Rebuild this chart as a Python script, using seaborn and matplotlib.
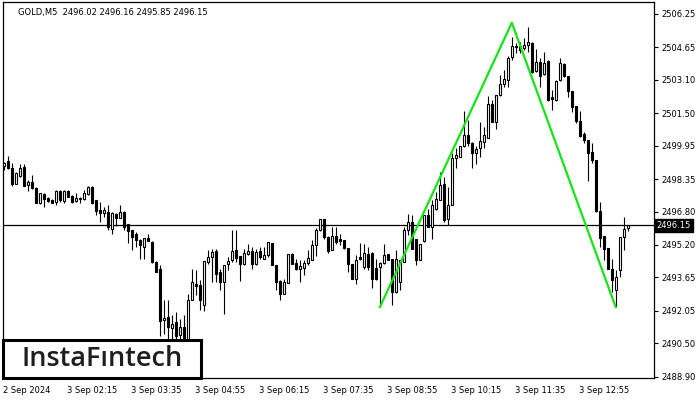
import matplotlib
matplotlib.use("Agg")
import matplotlib.pyplot as plt
import matplotlib.transforms as mtransforms
from matplotlib.patches import Rectangle
import seaborn as sns

# GOLD M5 candles (oldest first)
opens = [
    2498.97, 2499.22, 2498.86, 2498.14, 2498.50, 2498.94, 2498.06, 2498.19, 2497.93, 2497.23,
    2497.66, 2497.47, 2497.37, 2497.26, 2497.79, 2497.31, 2497.79, 2497.55, 2497.31, 2497.42,
    2497.42, 2497.63, 2497.98, 2497.37, 2496.86, 2496.73, 2496.78, 2495.98, 2496.67, 2496.51,
    2496.78, 2496.19, 2495.94, 2495.71, 2495.46, 2495.10, 2495.55, 2495.34, 2494.39, 2494.07,
    2491.59, 2491.75, 2491.24, 2491.51, 2490.92, 2491.27, 2490.15, 2492.55, 2493.35, 2493.27,
    2492.31, 2494.38, 2494.62, 2494.91, 2493.91, 2493.43, 2494.31, 2494.50, 2494.95, 2494.66,
    2494.31, 2494.79, 2494.90, 2494.31, 2494.91, 2494.55, 2494.71, 2495.30, 2494.23, 2493.47,
    2492.87, 2493.38, 2494.79, 2494.34, 2494.07, 2494.12, 2494.34, 2494.50, 2495.18, 2495.90,
    2496.42, 2495.58, 2494.98, 2495.62, 2495.51, 2495.46, 2495.07, 2494.27, 2493.59, 2494.62,
    2494.15, 2494.79, 2494.82, 2494.12, 2494.15, 2494.34, 2494.79, 2494.55, 2492.95, 2493.43,
    2494.38, 2495.94, 2496.30, 2495.51, 2494.47, 2495.39, 2496.62, 2496.06, 2496.94, 2497.34,
    2498.11, 2496.42, 2497.10, 2499.34, 2499.41, 2499.93, 2500.45, 2500.08, 2499.61, 2499.82,
    2500.13, 2500.34, 2501.94, 2501.09, 2502.37, 2502.90, 2503.09, 2504.17, 2504.72, 2504.72,
    2504.61, 2504.76, 2504.87, 2503.53, 2503.97, 2503.38, 2504.00, 2502.26, 2502.13, 2503.09,
    2503.85, 2503.28, 2502.58, 2501.84, 2501.12, 2500.53, 2500.21, 2499.65, 2499.26, 2496.83,
    2495.62, 2495.06, 2494.07, 2493.06, 2494.02, 2495.58, 2496.02,
]
highs = [
    2499.16, 2499.45, 2499.13, 2498.68, 2499.06, 2499.05, 2498.30, 2498.54, 2497.96, 2497.69,
    2497.68, 2497.48, 2497.39, 2497.82, 2497.82, 2497.82, 2497.82, 2497.58, 2497.71, 2497.50,
    2497.82, 2498.03, 2498.03, 2497.37, 2497.26, 2497.02, 2497.10, 2496.77, 2496.73, 2497.10,
    2496.81, 2496.22, 2495.94, 2495.82, 2495.47, 2495.55, 2495.71, 2495.38, 2494.42, 2494.23,
    2492.58, 2492.58, 2491.83, 2491.99, 2491.67, 2491.83, 2492.87, 2494.07, 2494.02, 2493.51,
    2494.42, 2494.95, 2495.03, 2495.03, 2494.07, 2494.23, 2494.62, 2495.90, 2495.90, 2494.66,
    2495.03, 2495.27, 2495.10, 2495.03, 2495.10, 2495.10, 2495.34, 2495.30, 2494.23, 2493.51,
    2493.59, 2494.79, 2494.82, 2494.55, 2494.47, 2494.50, 2494.95, 2495.42, 2495.99, 2496.46,
    2496.46, 2495.62, 2496.06, 2496.06, 2495.74, 2495.46, 2495.07, 2494.27, 2494.71, 2495.31,
    2495.27, 2495.10, 2494.86, 2494.55, 2494.39, 2495.27, 2494.79, 2494.55, 2494.98, 2494.47,
    2496.06, 2496.70, 2496.62, 2495.51, 2495.23, 2496.62, 2496.94, 2497.37, 2497.74, 2498.70,
    2498.46, 2497.98, 2499.58, 2499.82, 2499.93, 2501.62, 2501.17, 2500.13, 2499.93, 2501.09,
    2500.82, 2502.32, 2502.13, 2502.37, 2503.33, 2503.57, 2504.24, 2505.16, 2504.85, 2504.92,
    2505.09, 2505.64, 2504.91, 2504.56, 2504.13, 2504.44, 2504.05, 2502.61, 2503.09, 2504.13,
    2503.89, 2503.30, 2502.58, 2501.86, 2501.62, 2500.61, 2500.21, 2500.06, 2499.26, 2497.26,
    2495.62, 2495.06, 2494.55, 2493.99, 2495.58, 2496.54, 2496.16,
]
lows = [
    2498.78, 2498.83, 2498.03, 2498.11, 2498.43, 2498.01, 2497.79, 2497.90, 2497.21, 2497.18,
    2497.02, 2497.26, 2497.20, 2497.10, 2497.24, 2497.20, 2497.48, 2497.20, 2497.26, 2497.20,
    2497.37, 2497.58, 2497.18, 2496.62, 2496.30, 2496.54, 2495.90, 2495.74, 2496.09, 2496.48,
    2495.90, 2495.29, 2494.94, 2495.10, 2494.55, 2494.55, 2495.38, 2494.34, 2493.89, 2490.87,
    2490.95, 2490.40, 2490.72, 2490.25, 2490.40, 2489.68, 2489.92, 2492.55, 2492.79, 2492.07,
    2492.02, 2494.31, 2493.43, 2493.43, 2493.06, 2491.91, 2493.99, 2494.39, 2494.39, 2493.47,
    2494.23, 2494.71, 2494.07, 2494.23, 2494.55, 2494.55, 2494.62, 2494.23, 2493.03, 2492.59,
    2492.84, 2493.38, 2494.27, 2493.99, 2493.43, 2493.75, 2494.23, 2494.47, 2494.66, 2495.87,
    2495.51, 2494.82, 2494.95, 2495.27, 2495.18, 2495.03, 2493.91, 2493.59, 2493.35, 2494.47,
    2494.07, 2493.99, 2493.16, 2493.54, 2492.30, 2494.31, 2494.47, 2492.31, 2492.90, 2493.03,
    2494.38, 2495.66, 2495.03, 2494.23, 2494.47, 2495.34, 2496.06, 2495.51, 2496.86, 2497.34,
    2496.30, 2496.14, 2497.10, 2498.86, 2499.39, 2499.89, 2499.93, 2498.86, 2499.06, 2499.41,
    2499.82, 2500.34, 2501.09, 2500.73, 2502.32, 2502.77, 2502.74, 2504.05, 2504.37, 2504.37,
    2504.52, 2504.44, 2503.41, 2503.49, 2502.74, 2503.33, 2502.10, 2501.65, 2502.10, 2503.05,
    2503.25, 2502.29, 2501.57, 2501.01, 2500.37, 2500.06, 2498.26, 2499.10, 2496.78, 2495.10,
    2494.47, 2494.07, 2492.95, 2492.23, 2493.67, 2494.98, 2495.85,
]
closes = [
    2499.13, 2498.86, 2498.14, 2498.62, 2498.86, 2498.03, 2498.19, 2497.93, 2497.23, 2497.69,
    2497.39, 2497.31, 2497.23, 2497.79, 2497.37, 2497.79, 2497.50, 2497.26, 2497.47, 2497.44,
    2497.69, 2497.98, 2497.23, 2496.83, 2496.73, 2496.86, 2496.06, 2496.73, 2496.51, 2496.78,
    2496.06, 2495.87, 2495.58, 2495.46, 2495.18, 2495.55, 2495.39, 2494.39, 2493.91, 2491.56,
    2491.72, 2491.30, 2491.40, 2490.87, 2491.30, 2490.15, 2492.55, 2493.43, 2493.24, 2492.58,
    2494.42, 2494.62, 2494.86, 2493.83, 2493.43, 2494.23, 2494.42, 2494.91, 2494.60, 2494.31,
    2494.84, 2494.91, 2494.27, 2494.86, 2494.62, 2494.71, 2495.34, 2494.23, 2493.43, 2492.87,
    2493.43, 2494.75, 2494.31, 2494.07, 2494.18, 2494.36, 2494.60, 2495.18, 2495.90, 2496.42,
    2495.58, 2494.91, 2495.62, 2495.34, 2495.39, 2495.07, 2494.27, 2493.59, 2494.50, 2494.55,
    2494.82, 2494.15, 2493.59, 2493.59, 2494.36, 2494.71, 2494.50, 2492.95, 2494.55, 2494.47,
    2495.90, 2496.30, 2495.03, 2494.47, 2495.23, 2496.62, 2496.06, 2497.10, 2497.42, 2498.06,
    2496.38, 2497.10, 2499.34, 2499.50, 2499.93, 2500.45, 2500.08, 2499.61, 2499.77, 2500.18,
    2500.45, 2501.94, 2501.09, 2502.37, 2502.90, 2503.12, 2504.13, 2504.72, 2504.65, 2504.53,
    2504.76, 2504.92, 2503.49, 2503.97, 2503.28, 2503.92, 2502.13, 2502.16, 2503.05, 2503.89,
    2503.28, 2502.58, 2501.81, 2501.14, 2500.41, 2500.21, 2499.58, 2499.26, 2496.83, 2495.55,
    2495.03, 2494.07, 2493.54, 2493.67, 2495.58, 2495.98, 2496.15,
]

# double top / bottom pattern drawn in green (bar index, price)
pattern_bars = [94, 127, 153]
pattern_prices = [2492.22, 2505.83, 2492.22]

last_price = 2496.15
header = "GOLD,M5  2496.02 2496.16 2495.85 2496.15"

time_tick_bars = [0, 16, 32, 48, 64, 80, 96, 112, 128, 144]
time_tick_labels = ["2 Sep 2024", "3 Sep 02:15", "3 Sep 03:35", "3 Sep 04:55", "3 Sep 06:15",
                    "3 Sep 07:35", "3 Sep 08:55", "3 Sep 10:15", "3 Sep 11:35", "3 Sep 12:55"]
price_ticks = [2506.25, 2504.65, 2503.10, 2501.50, 2499.95, 2498.35,
               2496.80, 2495.20, 2493.65, 2492.05, 2490.50, 2488.90]

sns.set_style("white")
plt.rcParams["font.family"] = ["DejaVu Sans"]

fig = plt.figure(figsize=(7, 4), dpi=100)
ax = fig.add_axes([3 / 700, 22 / 400, 651 / 700, 376 / 400])

bars = list(range(len(opens)))
up = [c >= o for o, c in zip(opens, closes)]

# wicks
ax.vlines(bars, lows, highs, color="black", linewidth=0.8, zorder=2)
# bodies: white for up candles, black for down candles
body_bottom = [min(o, c) for o, c in zip(opens, closes)]
body_height = [max(abs(c - o), 0.015) for o, c in zip(opens, closes)]
ax.bar(bars, body_height, bottom=body_bottom, width=0.55,
       color=["white" if u else "black" for u in up],
       edgecolor="black", linewidth=0.8, zorder=3)

# pattern
sns.lineplot(x=pattern_bars, y=pattern_prices, ax=ax, color="#14e614",
             linewidth=1.6, zorder=4)

# current price line
ax.axhline(last_price, color="black", linewidth=0.9, zorder=1)

ax.set_xlim(-0.2, 162.55)
ax.set_ylim(2488.84, 2506.82)

ax.yaxis.tick_right()
ax.set_yticks(price_ticks)
ax.set_yticklabels([f"{p:.2f}" for p in price_ticks])
ax.set_xticks(time_tick_bars)
ax.set_xticklabels(time_tick_labels, ha="left")
ax.tick_params(axis="both", direction="out", length=3, width=0.8,
               labelsize=6, colors="black", pad=2)
ax.tick_params(axis="x", pad=3)
offset = mtransforms.ScaledTranslation(-1 / 100, 0, fig.dpi_scale_trans)
for lbl in ax.get_xticklabels():
    lbl.set_transform(lbl.get_transform() + offset)

for s in ax.spines.values():
    s.set_color("black")
    s.set_linewidth(0.9)
ax.set_xlabel("")
ax.set_ylabel("")

# header line
ax.text(0.023, 0.972, header, transform=ax.transAxes, fontsize=6,
        ha="left", va="center", color="black")

# current price label on the right scale
trans = mtransforms.blended_transform_factory(ax.transAxes, ax.transData)
ax.text(1.004, last_price, f"{last_price:.2f}", transform=trans, fontsize=6,
        color="white", ha="left", va="center", zorder=12, clip_on=False,
        bbox=dict(boxstyle="square,pad=0.25", facecolor="black", edgecolor="black"))

# logo box
ax.add_patch(Rectangle((0, 0), 198 / 651, 38 / 376, transform=ax.transAxes,
                       facecolor="white", edgecolor="black", linewidth=2.2,
                       zorder=10, clip_on=False))
ax.text(0.152, 0.05, "InstaF\u0131ntech", transform=ax.transAxes,
        fontsize=19.5, family=["Open Sans", "DejaVu Sans"], fontweight="semibold",
        color="#1e1e1e", ha="center", va="center", zorder=11)

fig.savefig("out.png", dpi=100)
